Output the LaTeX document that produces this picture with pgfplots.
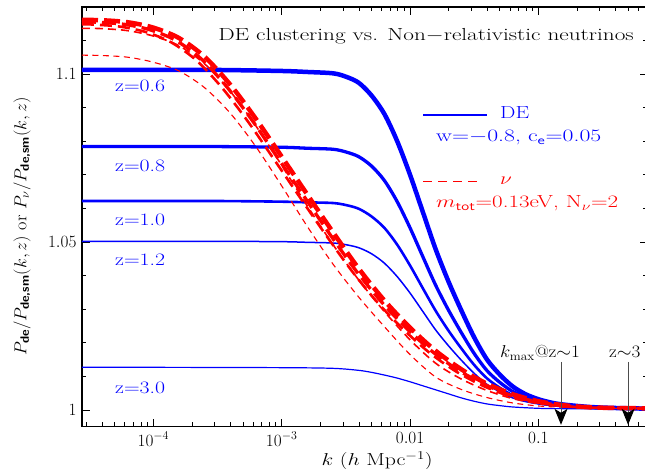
\documentclass[border=0pt]{standalone}
\usepackage{amsmath}
\usepackage{fontspec}
\usepackage{graphicx}
\usepackage{pgfplots}
\pgfplotsset{compat=1.18}
\usetikzlibrary{arrows.meta}
\definecolor{dblue}{RGB}{0,0,255}
\definecolor{dred}{RGB}{255,0,0}
\newcommand{\fs}{\fontsize{17.5}{21}\selectfont}
\newcommand{\hs}[1]{\scalebox{1.25}[1]{#1}}
\newcommand{\bs}[1]{\text{\sffamily\bfseries #1}}
\begin{document}
\begin{tikzpicture}
\begin{axis}[
  at={(0,0)}, anchor=south west,
  scale only axis, width=565.5bp, height=419.7bp,
  xmode=log, xmin=2.78e-5, xmax=0.708, ymin=0.99503, ymax=1.11994,
  xtick={1e-4,1e-3,1e-2,1e-1},
  xticklabels={$10^{-4}$,$10^{-3}$,$0.01$,$0.1$},
  minor xtick={3e-5,4e-5,5e-5,6e-5,7e-5,8e-5,9e-5,2e-4,3e-4,4e-4,5e-4,6e-4,7e-4,8e-4,9e-4,2e-3,3e-3,4e-3,5e-3,6e-3,7e-3,8e-3,9e-3,2e-2,3e-2,4e-2,5e-2,6e-2,7e-2,8e-2,9e-2,0.2,0.3,0.4,0.5,0.6,0.7},
  ytick={1,1.05,1.1}, yticklabels={$1$,$1.05$,$1.1$},
  minor ytick={1.01,1.02,1.03,1.04,1.06,1.07,1.08,1.09,1.11},
  tick align=inside, xtick pos=both, ytick pos=both,
  major tick length=8bp, minor tick length=4.5bp,
  every tick/.style={black, line width=0.8bp},
  axis line style={line width=1.2bp},
  tick label style={font=\fs},
  xticklabel style={yshift=-2bp},
  yticklabel style={xshift=-2bp},
  every axis y label/.style={at={(rel axis cs:0,0.478)}, xshift=-60bp, rotate=90, anchor=center, font=\fs},
  every axis x label/.style={at={(rel axis cs:0.522,0)}, yshift=-39bp, anchor=base, font=\fs},
  xlabel={\hs{$k$ ($h$ Mpc$^{-1}$)}},
  ylabel={\scalebox{1.05}[1]{$P_{\bs{de}}/P_{\bs{de,sm}}(k,z)$ or $P_{\nu}/P_{\bs{de,sm}}(k,z)$}},
  clip=true,
]
% ---- DE curves (blue)
\addplot[dblue, line width=1.2bp, smooth] coordinates {(2.78e-5,1.0127) (1e-4,1.0127) (1e-3,1.0126) (2.512e-3,1.0124) (3.981e-3,1.0118) (5.012e-3,1.0112) (6.310e-3,1.0104) (7.943e-3,1.0095) (1e-2,1.0084) (1.259e-2,1.0072) (1.585e-2,1.0060) (1.995e-2,1.0048) (2.512e-2,1.0036) (3.162e-2,1.0026) (3.981e-2,1.0018) (5.012e-2,1.0013) (6.310e-2,1.0009) (0.1,1.0005) (0.1585,1.0004) (0.708,1.0004)};
\addplot[dblue, line width=1.5bp, smooth] coordinates {(2.78e-5,1.0502) (1e-4,1.0502) (3.162e-4,1.0502) (1e-3,1.0501) (1.585e-3,1.0499) (2.512e-3,1.0497) (3.162e-3,1.0492) (3.981e-3,1.0483) (5.012e-3,1.0465) (6.310e-3,1.0437) (7.943e-3,1.0397) (1e-2,1.0348) (1.259e-2,1.0293) (1.585e-2,1.0238) (1.995e-2,1.0191) (2.512e-2,1.0148) (3.162e-2,1.0109) (3.981e-2,1.0076) (5.012e-2,1.0054) (6.310e-2,1.0036) (7.943e-2,1.0025) (0.1,1.0018) (0.1259,1.0013) (0.1585,1.0010) (0.2512,1.0006) (0.3981,1.0005) (0.708,1.0004)};
\addplot[dblue, line width=2.6bp, smooth] coordinates {(2.78e-5,1.0622) (1e-4,1.0622) (3.162e-4,1.0622) (1e-3,1.0620) (1.585e-3,1.0618) (2.512e-3,1.0616) (3.162e-3,1.0610) (3.981e-3,1.0599) (5.012e-3,1.0576) (6.310e-3,1.0542) (7.943e-3,1.0492) (1e-2,1.0430) (1.259e-2,1.0362) (1.585e-2,1.0295) (1.995e-2,1.0236) (2.512e-2,1.0183) (3.162e-2,1.0134) (3.981e-2,1.0094) (5.012e-2,1.0066) (6.310e-2,1.0044) (7.943e-2,1.0031) (0.1,1.0021) (0.1259,1.0015) (0.1585,1.0011) (0.2512,1.0007) (0.3981,1.0005) (0.708,1.0004)};
\addplot[dblue, line width=3.3bp, smooth] coordinates {(2.78e-5,1.0784) (1e-4,1.0784) (3.162e-4,1.0784) (1e-3,1.0782) (1.585e-3,1.0779) (2.512e-3,1.0776) (3.162e-3,1.0768) (3.981e-3,1.0754) (5.012e-3,1.0726) (6.310e-3,1.0683) (7.943e-3,1.0620) (1e-2,1.0542) (1.259e-2,1.0456) (1.585e-2,1.0371) (1.995e-2,1.0297) (2.512e-2,1.0230) (3.162e-2,1.0168) (3.981e-2,1.0117) (5.012e-2,1.0082) (6.310e-2,1.0055) (7.943e-2,1.0038) (0.1,1.0026) (0.1259,1.0018) (0.1585,1.0013) (0.2512,1.0008) (0.3981,1.0006) (0.708,1.0004)};
\addplot[dblue, line width=4.5bp, smooth] coordinates {(2.78e-5,1.1012) (1e-4,1.1012) (3.162e-4,1.1012) (1e-3,1.1009) (1.585e-3,1.1006) (2.512e-3,1.1002) (3.162e-3,1.0992) (3.981e-3,1.0974) (5.012e-3,1.0936) (6.310e-3,1.0881) (7.943e-3,1.0800) (1e-2,1.0700) (1.259e-2,1.0589) (1.585e-2,1.0478) (1.995e-2,1.0382) (2.512e-2,1.0296) (3.162e-2,1.0216) (3.981e-2,1.0150) (5.012e-2,1.0105) (6.310e-2,1.0070) (7.943e-2,1.0047) (0.1,1.0032) (0.1259,1.0022) (0.1585,1.0016) (0.2512,1.0009) (0.3981,1.0006) (0.708,1.0004)};
% ---- neutrino curves (red, dashed)
\addplot[dred, line width=1.1bp, smooth, dash pattern=on 6bp off 4.5bp] coordinates {(2.78e-5,1.1056) (3.981e-5,1.1055) (6.310e-5,1.1050) (1e-4,1.1035) (1.585e-4,1.1009) (2.512e-4,1.0959) (3.981e-4,1.0883) (6.310e-4,1.0783) (1e-3,1.0667) (1.585e-3,1.0546) (2.512e-3,1.0434) (3.981e-3,1.0336) (6.310e-3,1.0248) (1e-2,1.0165) (1.585e-2,1.0098) (2.512e-2,1.0061) (3.981e-2,1.0037) (6.310e-2,1.0021) (0.1,1.0012) (0.1585,1.0008) (0.2512,1.0006) (0.3981,1.0005) (0.708,1.0005)};
\addplot[dred, line width=1.6bp, smooth, dash pattern=on 8bp off 5bp] coordinates {(2.78e-5,1.1136) (3.981e-5,1.1135) (6.310e-5,1.1129) (1e-4,1.1113) (1.585e-4,1.1084) (2.512e-4,1.1030) (3.981e-4,1.0948) (6.310e-4,1.0845) (1e-3,1.0728) (1.585e-3,1.0607) (2.512e-3,1.0492) (3.981e-3,1.0387) (6.310e-3,1.0293) (1e-2,1.0209) (1.585e-2,1.0139) (2.512e-2,1.0092) (3.981e-2,1.0058) (6.310e-2,1.0034) (0.1,1.0019) (0.1585,1.0011) (0.2512,1.0007) (0.3981,1.0006) (0.708,1.0005)};
\addplot[dred, line width=2.6bp, smooth, dash pattern=on 12bp off 6bp] coordinates {(2.78e-5,1.1148) (3.467e-5,1.1147) (5.495e-5,1.1141) (8.710e-5,1.1125) (1.380e-4,1.1094) (2.188e-4,1.1039) (3.467e-4,1.0957) (5.495e-4,1.0857) (8.710e-4,1.0746) (1.380e-3,1.0634) (2.188e-3,1.0523) (3.467e-3,1.0417) (5.495e-3,1.0323) (8.710e-3,1.0243) (1.380e-2,1.0174) (2.188e-2,1.0119) (3.467e-2,1.0077) (5.495e-2,1.0046) (8.710e-2,1.0026) (0.1380,1.0014) (0.2188,1.0008) (0.3467,1.0006) (0.708,1.0005)};
\addplot[dred, line width=3.3bp, smooth, dash pattern=on 14bp off 6bp] coordinates {(2.78e-5,1.1155) (3.715e-5,1.1154) (5.888e-5,1.1148) (9.333e-5,1.1132) (1.479e-4,1.1101) (2.344e-4,1.1046) (3.715e-4,1.0963) (5.888e-4,1.0862) (9.333e-4,1.0750) (1.479e-3,1.0638) (2.344e-3,1.0526) (3.715e-3,1.0419) (5.888e-3,1.0325) (9.333e-3,1.0244) (1.479e-2,1.0175) (2.344e-2,1.0120) (3.715e-2,1.0078) (5.888e-2,1.0046) (9.333e-2,1.0026) (0.1479,1.0014) (0.2344,1.0008) (0.3715,1.0006) (0.708,1.0005)};
\addplot[dred, line width=4.5bp, smooth, dash pattern=on 16bp off 6bp] coordinates {(2.78e-5,1.1161) (3.981e-5,1.1160) (6.310e-5,1.1154) (1e-4,1.1138) (1.585e-4,1.1107) (2.512e-4,1.1051) (3.981e-4,1.0968) (6.310e-4,1.0866) (1e-3,1.0754) (1.585e-3,1.0641) (2.512e-3,1.0529) (3.981e-3,1.0421) (6.310e-3,1.0326) (1e-2,1.0245) (1.585e-2,1.0176) (2.512e-2,1.0121) (3.981e-2,1.0078) (6.310e-2,1.0047) (0.1,1.0026) (0.1585,1.0014) (0.2512,1.0008) (0.3981,1.0006) (0.708,1.0005)};
% ---- k_max arrows
\draw[black!70, line width=1bp, -{Stealth[length=16bp,width=13bp,inset=4bp,black]}] (axis cs:0.15,1.0143) -- (axis cs:0.15,0.9956);
\draw[black!70, line width=1bp, -{Stealth[length=16bp,width=13bp,inset=4bp,black]}] (axis cs:0.5,1.0143) -- (axis cs:0.5,0.9956);
\end{axis}
% ---- legend samples
\fill[blue] (341bp,311.1bp) rectangle (405bp,312.3bp);
\fill[red] (341bp,244.3bp) rectangle (349.7bp,245.7bp);
\fill[red] (356bp,244.3bp) rectangle (364.7bp,245.7bp);
\fill[red] (371bp,244.3bp) rectangle (379.7bp,245.7bp);
\fill[red] (386bp,244.3bp) rectangle (394.7bp,245.7bp);
% ---- texts
\node[anchor=base east, font=\fs, inner sep=0pt] at (552bp,385.7bp) {\scalebox{1.33}[1]{DE clustering vs. Non$-$relativistic neutrinos}};
\node[anchor=base west, font=\fs, inner sep=0pt, text=dblue] at (33bp,334.7bp) {\hs{z=0.6}};
\node[anchor=base west, font=\fs, inner sep=0pt, text=dblue] at (33bp,254.7bp) {\hs{z=0.8}};
\node[anchor=base west, font=\fs, inner sep=0pt, text=dblue] at (33bp,200.7bp) {\hs{z=1.0}};
\node[anchor=base west, font=\fs, inner sep=0pt, text=dblue] at (33bp,160.7bp) {\hs{z=1.2}};
\node[anchor=base west, font=\fs, inner sep=0pt, text=dblue] at (33bp,33.7bp) {\hs{z=3.0}};
% legend texts
\node[anchor=base west, font=\fs, inner sep=0pt, text=dblue] at (418bp,307.7bp) {\hs{DE}};
\node[anchor=base west, font=\fs, inner sep=0pt, text=dblue] at (354bp,284.7bp) {\scalebox{1.36}[1]{w=$-$0.8, c$_{\text{\sffamily e}}$=0.05}};
\node[anchor=base west, font=\fs, inner sep=0pt, text=dred] at (418bp,241.7bp) {\hs{$\nu$}};
\node[anchor=base west, font=\fs, inner sep=0pt, text=dred] at (354bp,218.7bp) {\scalebox{1.32}[1]{$m_{\text{\sffamily tot}}$=0.13eV, N$_\nu$=2}};
% arrow labels
\node[anchor=base west, font=\fs, inner sep=0pt] at (418bp,68.7bp) {\scalebox{1.1}[1]{$k_{\mathrm{max}}$@z$\sim$1}};
\node[anchor=base west, font=\fs, inner sep=0pt] at (527bp,68.7bp) {\scalebox{1.1}[1]{z$\sim$3}};
\pgfresetboundingbox
\useasboundingbox (-82bp,-42.3bp) rectangle (563bp,426.7bp);
\end{tikzpicture}
\end{document}
